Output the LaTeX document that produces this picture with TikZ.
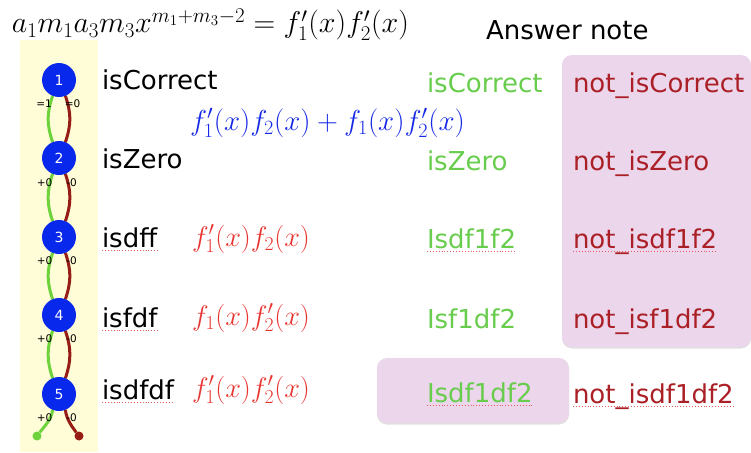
\RequirePackage{fix-cm}
\documentclass[tikz,border=0pt]{standalone}
\usepackage{fontspec}
\setsansfont{DejaVu Sans}
\usetikzlibrary{shadows}
\definecolor{bgyellow}{RGB}{255,253,215}
\definecolor{boxpink}{RGB}{236,214,236}
\definecolor{nodeblue}{RGB}{8,40,235}
\definecolor{lgreen}{RGB}{104,204,76}
\definecolor{cgreen}{RGB}{110,210,60}
\definecolor{dred}{RGB}{170,32,38}
\definecolor{cred}{RGB}{150,28,22}
\definecolor{mred}{RGB}{232,52,48}
\definecolor{mblue}{RGB}{20,40,230}
\definecolor{squig}{RGB}{230,90,90}
\pgfdeclarelayer{bg}
\pgfsetlayers{bg,main}
\begin{document}
\begin{tikzpicture}[x=1pt,y=-1pt,
  every node/.style={inner sep=0pt, outer sep=0pt},
  lbl/.style={font=\sffamily\fontsize{26}{30}\selectfont, anchor=base west},
  mth/.style={font=\fontsize{25}{30}\selectfont, anchor=base west},
  state/.style={circle, fill=nodeblue, minimum size=34pt, text=white, font=\sffamily\fontsize{14}{16}\selectfont},
  tinylbl/.style={font=\sffamily\fontsize{10.5}{12}\selectfont},
  gline/.style={draw=cgreen, line width=3pt},
  rline/.style={draw=cred, line width=3pt},
  spell/.style={draw=squig, dotted, line width=0.9pt},
  pbox/.style={fill=boxpink, rounded corners=10pt, drop shadow={opacity=0.12, shadow xshift=0pt, shadow yshift=-1.5pt, fill=black}}
]
\useasboundingbox (0,0) rectangle (751,452);
\begin{pgfonlayer}{bg}
\fill[bgyellow] (20,40) rectangle (98,452);
\end{pgfonlayer}
\path[pbox] (562,55) rectangle (751,347);
\path[pbox] (377,358) rectangle (569,423);

% title
\node[mth] (title) at (12,33) {\scalebox{1.2}{$a_1m_1a_3m_3x^{m_1+m_3-2}=f_1'(x)f_2'(x)$}};
\node[lbl] (ans) at (486,40) {Answer note};

% states
\node[state] (n1) at (59,80) {1};
\node[state] (n2) at (59,158) {2};
\node[state] (n3) at (59,237) {3};
\node[state] (n4) at (59,315) {4};
\node[state] (n5) at (59,394) {5};
\node[circle, fill=cgreen, minimum size=9pt] (gend) at (37,436) {};
\node[circle, fill=cred, minimum size=9pt] (rend) at (79,436) {};

\begin{pgfonlayer}{bg}
\foreach \a/\b in {n1/n2,n2/n3,n3/n4,n4/n5}{
  \draw[gline] (\a.-112) .. controls +(-6,18) and +(-6,-18) .. (\b.112);
  \draw[rline] (\a.-68) .. controls +(6,18) and +(6,-18) .. (\b.68);
}
\draw[gline] (n5.-112) .. controls +(-1,10) and +(6,-8) .. (gend);
\draw[rline] (n5.-68) .. controls +(1,10) and +(-6,-8) .. (rend);
\end{pgfonlayer}

% edge labels
\node[tinylbl] (l1a) at (44,104) {=1};
\node[tinylbl] (l1b) at (72.5,104) {=0};
\node[tinylbl] (l2a) at (44.5,183) {+0};
\node[tinylbl] (l2b) at (71.5,183) {-0};
\node[tinylbl] (l3a) at (44.5,261) {+0};
\node[tinylbl] (l3b) at (71.5,261) {-0};
\node[tinylbl] (l4a) at (44.5,339) {+0};
\node[tinylbl] (l4b) at (71.5,339) {-0};
\node[tinylbl] (l5a) at (44.5,418) {+0};
\node[tinylbl] (l5b) at (71.5,418) {-0};

% state names
\node[lbl] (t1) at (102,89) {isCorrect};
\node[lbl] (t2) at (102,168) {isZero};
\node[lbl] (t3) at (102,247) {isdff};
\node[lbl] (t4) at (102,327) {isfdf};
\node[lbl] (t5) at (102,399) {isdfdf};

% math
\node[mth, text=mblue] (m1) at (190,130) {\scalebox{1.155}{$f_1'(x)f_2(x)+f_1(x)f_2'(x)$}};
\node[mth, text=mred] (m3) at (192,246) {\scalebox{1.13}{$f_1'(x)f_2(x)$}};
\node[mth, text=mred] (m4) at (192,325) {\scalebox{1.13}{$f_1(x)f_2'(x)$}};
\node[mth, text=mred] (m5) at (192,397) {\scalebox{1.13}{$f_1'(x)f_2'(x)$}};

% answer notes
\node[lbl, text=lgreen] (g1) at (427,92) {isCorrect};
\node[lbl, text=lgreen] (g2) at (427,170) {isZero};
\node[lbl, text=lgreen] (g3) at (427,248) {Isdf1f2};
\node[lbl, text=lgreen] (g4) at (427,328) {Isf1df2};
\node[lbl, text=lgreen] (g5) at (427,402) {Isdf1df2};
\node[lbl, text=dred] (r1) at (573,92) {not\_isCorrect};
\node[lbl, text=dred] (r2) at (573,170) {not\_isZero};
\node[lbl, text=dred] (r3) at (573,248) {not\_isdf1f2};
\node[lbl, text=dred] (r4) at (573,328) {not\_isf1df2};
\node[lbl, text=dred] (r5) at (573,403) {not\_isdf1df2};

% spell-check underlines
\foreach \t in {t3,t4,t5,g3,g5,r3,r5}{
  \draw[spell] ([yshift=-3pt]\t.base west) -- ([yshift=-3pt]\t.base east);
}
\end{tikzpicture}
\end{document}
